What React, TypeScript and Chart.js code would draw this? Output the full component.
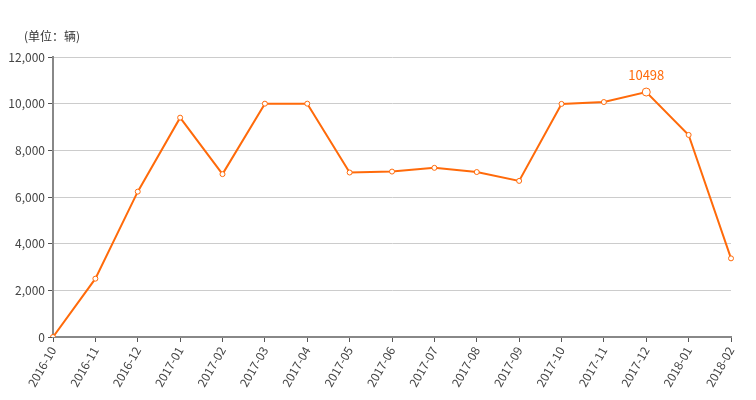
import React, { useEffect, useRef } from "react";
import { Chart, registerables } from "chart.js";

Chart.register(...registerables);

const categories = [
  "2016-10", "2016-11", "2016-12", "2017-01", "2017-02", "2017-03", "2017-04",
  "2017-05", "2017-06", "2017-07", "2017-08", "2017-09", "2017-10", "2017-11",
  "2017-12", "2018-01", "2018-02",
];
const values = [
  0, 2500, 6230, 9400, 6980, 10000, 10000, 7050, 7090, 7250, 7070, 6690,
  9990, 10070, 10498, 8660, 3370,
];
const highlightIndex = 14;
const unitLabel = "(单位：辆)";
const yMax = 12000;
const yStep = 2000;

const FONT = "'Noto Sans CJK SC', 'Noto Sans', sans-serif";
const ORANGE = "#ff6a0a";

export default function App() {
  const ref = useRef<HTMLCanvasElement | null>(null);

  useEffect(() => {
    document.body.style.margin = "0";
    const canvas = ref.current;
    if (!canvas) return;

    const overlay = {
      id: "overlay",
      afterDraw(chart: any) {
        const ctx = chart.ctx;
        ctx.save();
        ctx.font = `12px ${FONT}`;
        ctx.fillStyle = "#333";
        ctx.textAlign = "left";
        ctx.textBaseline = "middle";
        ctx.fillText(unitLabel, 24, 36);
        const xs = chart.scales.x;
        const ys = chart.scales.y;
        const px = xs.getPixelForValue(highlightIndex);
        const py = ys.getPixelForValue(values[highlightIndex]);
        ctx.font = `13px ${FONT}`;
        ctx.fillStyle = ORANGE;
        ctx.textAlign = "center";
        ctx.fillText(String(values[highlightIndex]), px, py - 17);
        ctx.restore();
      },
    };

    const chart = new Chart(canvas, {
      type: "line",
      data: {
        labels: categories,
        datasets: [
          {
            data: values,
            borderColor: ORANGE,
            borderWidth: 2,
            backgroundColor: "#fff",
            pointBackgroundColor: "#fff",
            pointBorderColor: ORANGE,
            pointBorderWidth: 1,
            pointRadius: values.map((_, i) => (i === highlightIndex ? 4 : 2.5)),
            tension: 0,
            fill: false,
          },
        ],
      },
      options: {
        animation: false,
        responsive: false,
        maintainAspectRatio: false,
        layout: { padding: { top: 57, right: 25, left: 0, bottom: 0 } },
        plugins: {
          legend: { display: false },
          tooltip: { enabled: false },
          title: { display: false },
        },
        scales: {
          x: {
            offset: false,
            afterFit(scale: any) {
              scale.height = 63;
            },
            grid: {
              drawOnChartArea: false,
              drawTicks: true,
              tickLength: 5,
              tickColor: "#555",
            },
            border: { color: "#888", width: 2 },
            ticks: {
              minRotation: 60,
              maxRotation: 60,
              autoSkip: false,
              color: "#444",
              font: { family: FONT, size: 12 },
              padding: 2,
            },
          },
          y: {
            min: 0,
            max: yMax,
            afterFit(scale: any) {
              scale.width = 53;
            },
            grid: {
              color: "#cccccc",
              lineWidth: 1,
              drawTicks: true,
              tickLength: 5,
              tickColor: "#555",
            },
            border: { color: "#888", width: 2 },
            ticks: {
              stepSize: yStep,
              color: "#444",
              font: { family: FONT, size: 12 },
              padding: 3,
              callback: (v: any) => Number(v).toLocaleString("en-US"),
            },
          },
        },
      },
      plugins: [overlay],
    });

    return () => chart.destroy();
  }, []);

  return (
    <div style={{ width: 756, height: 400 }}>
      <canvas ref={ref} width={756} height={400} style={{ display: "block" }} />
    </div>
  );
}
